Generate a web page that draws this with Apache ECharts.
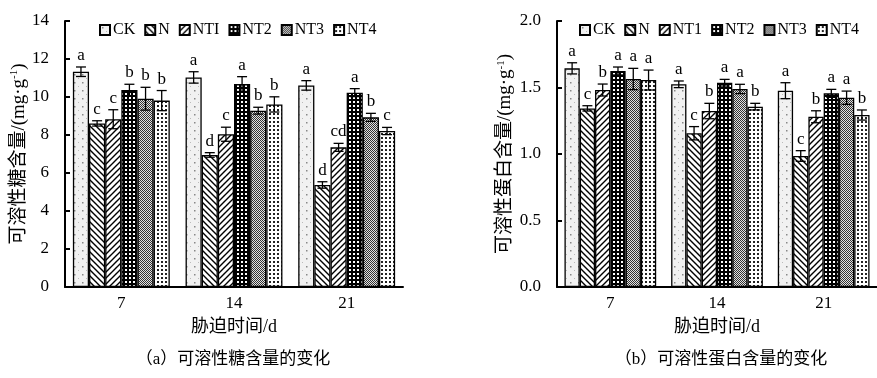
<!DOCTYPE html>
<html>
<head>
<meta charset="utf-8">
<script src="https://cdn.jsdelivr.net/npm/echarts@6/dist/echarts.min.js"></script>
<style>
  html, body { margin: 0; padding: 0; background: #fff; }
  #main { width: 877px; height: 378px; }
</style>
</head>
<body>
<div id="main"></div>
<script>
// ==== data ====
const days = ["7", "14", "21"];
const sugarNames = ["CK", "N", "NTI", "NT2", "NT3", "NT4"];
const proteinNames = ["CK", "N", "NT1", "NT2", "NT3", "NT4"];

// soluble sugar, mg/g (per treatment, over 7/14/21 d)
const sugarCK = [11.33, 11.03, 10.61];
const sugarN = [8.61, 6.95, 5.37];
const sugarNT1 = [8.83, 8.04, 7.35];
const sugarNT2 = [10.37, 10.68, 10.23];
const sugarNT3 = [9.91, 9.28, 8.93];
const sugarNT4 = [9.81, 9.61, 8.21];
const sugarErr = [
	[0.25, 0.3, 0.25],
	[0.14, 0.12, 0.17],
	[0.5, 0.37, 0.21],
	[0.3, 0.39, 0.21],
	[0.6, 0.18, 0.21],
	[0.53, 0.4, 0.19],
];
const sugarLetters = [
	["a", "a", "a"],
	["c", "d", "d"],
	["c", "c", "cd"],
	["b", "a", "a"],
	["b", "b", "b"],
	["b", "b", "c"],
];

// soluble protein, mg/g
const protCK = [1.644, 1.524, 1.476];
const protN = [1.343, 1.156, 0.985];
const protNT1 = [1.481, 1.323, 1.28];
const protNT2 = [1.624, 1.536, 1.456];
const protNT3 = [1.564, 1.489, 1.423];
const protNT4 = [1.556, 1.356, 1.293];
const protErr = [
	[0.042, 0.025, 0.06],
	[0.02, 0.05, 0.04],
	[0.045, 0.058, 0.045],
	[0.03, 0.025, 0.03],
	[0.08, 0.035, 0.05],
	[0.075, 0.025, 0.038],
];
const protLetters = [
	["a", "a", "a"],
	["c", "c", "c"],
	["b", "b", "b"],
	["a", "a", "a"],
	["a", "a", "a"],
	["a", "b", "b"],
];

const sugarValues = [sugarCK, sugarN, sugarNT1, sugarNT2, sugarNT3, sugarNT4];
const protValues = [protCK, protN, protNT1, protNT2, protNT3, protNT4];

// ==== fill patterns ====
function makePattern(size, draw) {
	const c = document.createElement("canvas");
	c.width = size;
	c.height = size;
	const ctx = c.getContext("2d");
	draw(ctx, size);
	return { image: c, repeat: "repeat" };
}

const patterns = [
	// CK: light speckle with sparse dots
	makePattern(8, (ctx, s) => {
		ctx.fillStyle = "#f1f1f1";
		ctx.fillRect(0, 0, s, s);
		ctx.fillStyle = "#888";
		ctx.fillRect(2, 2, 1.5, 1.5);
		ctx.fillStyle = "#bbb";
		ctx.fillRect(6, 6, 1, 1);
	}),
	// N: back slash hatch
	makePattern(6, (ctx, s) => {
		ctx.fillStyle = "#fff";
		ctx.fillRect(0, 0, s, s);
		ctx.strokeStyle = "#000";
		ctx.lineWidth = 1.4;
		ctx.beginPath();
		ctx.moveTo(-1, -1); ctx.lineTo(s + 1, s + 1);
		ctx.moveTo(-1, s - 1); ctx.lineTo(1, s + 1);
		ctx.moveTo(s - 1, -1); ctx.lineTo(s + 1, 1);
		ctx.stroke();
	}),
	// NT1: forward slash hatch
	makePattern(6, (ctx, s) => {
		ctx.fillStyle = "#fff";
		ctx.fillRect(0, 0, s, s);
		ctx.strokeStyle = "#000";
		ctx.lineWidth = 1.4;
		ctx.beginPath();
		ctx.moveTo(-1, s + 1); ctx.lineTo(s + 1, -1);
		ctx.moveTo(-1, 1); ctx.lineTo(1, -1);
		ctx.moveTo(s - 1, s + 1); ctx.lineTo(s + 1, s - 1);
		ctx.stroke();
	}),
	// NT2: black with small white squares
	makePattern(4, (ctx, s) => {
		ctx.fillStyle = "#000";
		ctx.fillRect(0, 0, s, s);
		ctx.fillStyle = "#fff";
		ctx.fillRect(1, 1, 2, 2);
	}),
	// NT3: fine checker
	makePattern(2, (ctx, s) => {
		ctx.fillStyle = "#e2e2e2";
		ctx.fillRect(0, 0, s, s);
		ctx.fillStyle = "#333";
		ctx.fillRect(0, 0, 1, 1);
		ctx.fillRect(1, 1, 1, 1);
	}),
	// NT4: white with dot grid
	makePattern(4, (ctx, s) => {
		ctx.fillStyle = "#fff";
		ctx.fillRect(0, 0, s, s);
		ctx.fillStyle = "#222";
		ctx.fillRect(1, 1, 2, 2);
	}),
];

const serif = "'Liberation Serif', 'Times New Roman', 'Noto Sans CJK SC', serif";
const GAP = 0.14;

function flatErr(values, errs, letters) {
	const data = [];
	const labels = [];
	for (let s = 0; s < values.length; s++) {
		for (let c = 0; c < days.length; c++) {
			data.push([c, s, values[s][c], errs[s][c]]);
			labels.push(letters[s][c]);
		}
	}
	return { data, labels };
}

function errRenderer(labels) {
	return function (params, api) {
		const cat = api.value(0);
		const si = api.value(1);
		const v = api.value(2);
		const e = api.value(3);
		const cw = api.size([1, 0])[0];
		const bw = (cw * (1 - GAP)) / 6;
		const dx = (si - 2.5) * bw;
		const top = api.coord([cat, v + e]);
		const bot = api.coord([cat, v - e]);
		const x = top[0] + dx;
		const cap = 5;
		const st = { stroke: "#000", lineWidth: 1.3 };
		return {
			type: "group",
			children: [
				{ type: "line", shape: { x1: x, y1: top[1], x2: x, y2: bot[1] }, style: st },
				{ type: "line", shape: { x1: x - cap, y1: top[1], x2: x + cap, y2: top[1] }, style: st },
				{ type: "line", shape: { x1: x - cap, y1: bot[1], x2: x + cap, y2: bot[1] }, style: st },
				{
					type: "text",
					style: {
						text: labels[params.dataIndex],
						x: x,
						y: top[1] - 3,
						textAlign: "center",
						textVerticalAlign: "bottom",
						font: "17px " + serif,
						fill: "#000",
					},
				},
			],
		};
	};
}

const sugarFlat = flatErr(sugarValues, sugarErr, sugarLetters);
const protFlat = flatErr(protValues, protErr, protLetters);

function barSeries(names, values, idx) {
	return names.map((n, i) => ({
		name: n,
		type: "bar",
		xAxisIndex: idx,
		yAxisIndex: idx,
		data: values[i],
		barGap: "0%",
		barCategoryGap: GAP * 100 + "%",
		itemStyle: { color: patterns[i], borderColor: "#000", borderWidth: 1.3 },
		emphasis: { disabled: true },
		animation: false,
	}));
}

const xAxisBase = {
	type: "category",
	data: days,
	axisLine: { lineStyle: { color: "#000", width: 2 } },
	axisTick: { inside: true, length: 6, lineStyle: { color: "#000", width: 2 } },
	axisLabel: { color: "#000", fontFamily: serif, fontSize: 17, margin: 8 },
	name: "胁迫时间/d",
	nameLocation: "middle",
	nameGap: 31,
	nameTextStyle: { color: "#000", fontFamily: serif, fontSize: 18 },
};

const yAxisBase = {
	type: "value",
	min: 0,
	axisLine: { show: true, lineStyle: { color: "#000", width: 2 } },
	axisTick: { show: true, inside: true, length: 5, lineStyle: { color: "#000", width: 2 } },
	axisLabel: { color: "#000", fontFamily: serif, fontSize: 17, margin: 16 },
	splitLine: { show: false },
	nameLocation: "middle",
	nameRotate: 90,
	nameTextStyle: {
		color: "#000",
		fontFamily: serif,
		fontSize: 19,
		rich: { sup: { fontSize: 11, verticalAlign: "top", fontFamily: serif, color: "#000" } },
	},
};

const legendBase = {
	top: 17,
	itemWidth: 10,
	itemHeight: 10,
	itemGap: 9,
	icon: "rect",
	textStyle: { color: "#000", fontFamily: serif, fontSize: 16, padding: [0, 0, 0, -2] },
	selectedMode: false,
};

const captionStyle = { color: "#000", fontFamily: serif, fontSize: 17, fontWeight: "normal" };

const chart = echarts.init(document.getElementById("main"));
const option = {
	backgroundColor: "#fff",
	animation: false,
	title: [
		{ text: "（a）可溶性糖含量的变化", left: 228, top: 346, textAlign: "center", textStyle: captionStyle },
		{ text: "（b）可溶性蛋白含量的变化", left: 716, top: 346, textAlign: "center", textStyle: captionStyle },
	],
	legend: [
		Object.assign({}, legendBase, { left: 94, data: sugarNames }),
		Object.assign({}, legendBase, { left: 574, data: proteinNames }),
	],
	grid: [
		{ left: 65, right: 474, top: 21, bottom: 91, containLabel: false },
		{ left: 557, right: -11, top: 21, bottom: 91, containLabel: false },
	],
	xAxis: [
		Object.assign({}, xAxisBase, { gridIndex: 0 }),
		Object.assign({}, xAxisBase, { gridIndex: 1 }),
	],
	yAxis: [
		Object.assign({}, yAxisBase, {
			gridIndex: 0,
			max: 14,
			interval: 2,
			name: "可溶性糖含量/(mg·g{sup|-1})",
			nameGap: 35,
		}),
		Object.assign({}, yAxisBase, {
			gridIndex: 1,
			max: 2,
			interval: 0.5,
			name: "可溶性蛋白含量/(mg·g{sup|-1})",
			nameGap: 42,
			axisLabel: Object.assign({}, yAxisBase.axisLabel, {
				formatter: (v) => v.toFixed(1),
			}),
		}),
	],
	series: [
		...barSeries(sugarNames, sugarValues, 0),
		...barSeries(proteinNames, protValues, 1),
		{
			type: "custom",
			xAxisIndex: 0,
			yAxisIndex: 0,
			data: sugarFlat.data,
			renderItem: errRenderer(sugarFlat.labels),
			z: 10,
			silent: true,
		},
		{
			type: "custom",
			xAxisIndex: 1,
			yAxisIndex: 1,
			data: protFlat.data,
			renderItem: errRenderer(protFlat.labels),
			z: 10,
			silent: true,
		},
	],
};
chart.setOption(option);
</script>
</body>
</html>
